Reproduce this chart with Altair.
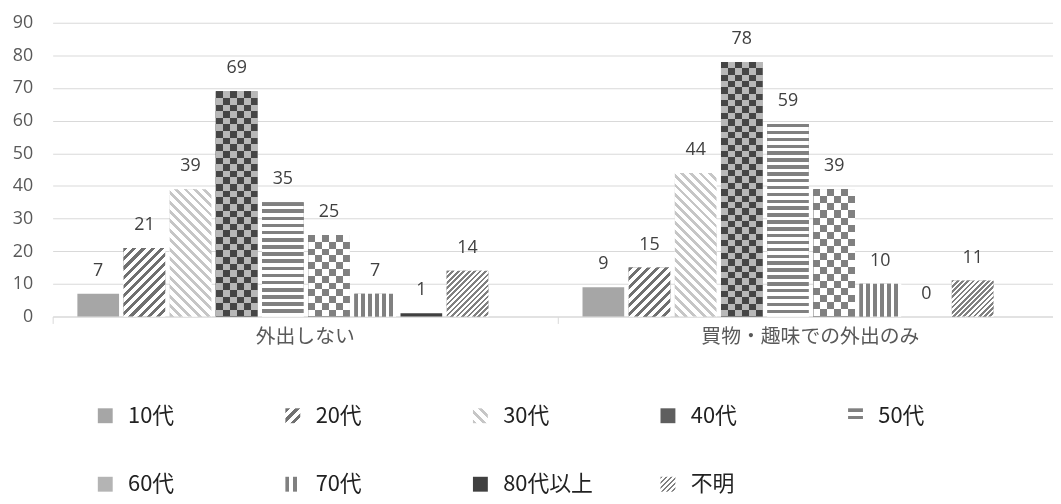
import math
import json
import altair as alt
import pandas as pd

# ---------------- data ----------------
groups = ["外出しない", "買物・趣味での外出のみ"]
series = ["10代", "20代", "30代", "40代", "50代", "60代", "70代", "80代以上", "不明"]
values_no_outing = [7, 21, 39, 69, 35, 25, 7, 1, 14]
values_shopping_hobby = [9, 15, 44, 78, 59, 39, 10, 0, 11]
y_ticks = [0, 10, 20, 30, 40, 50, 60, 70, 80, 90]

rows = []
for g, vals in zip(groups, [values_no_outing, values_shopping_hobby]):
    for s, v in zip(series, vals):
        rows.append({"group": g, "series": s, "value": v, "key": g + "|" + s})
df = pd.DataFrame(rows)

# ---------------- layout ----------------
W_PLOT = 1008
H_PLOT = 296
BAND = 509
Y_MAX = 90
offset_domain = series + ["_spacer"]   # empty slot reproduces the uneven group spacing
PI = 0.097
PO = 0.52
ALIGN = 0.515
N = len(offset_domain)
STEP = BAND / (N - PI + 2 * PO)
BAR_W = STEP * (1 - PI)

JP = "Noto Sans CJK JP"
NUM = "Open Sans"

# ---------------- pattern styles ----------------
WHITE = "#ffffff"
STYLE = {
    "10代": ("solid", "#a6a6a6"),
    "20代": ("stripe", "/", 6.6, 0.45, "#707070", WHITE),
    "30代": ("stripe", "\\", 6.6, 0.42, "#c6c6c6", WHITE),
    "40代": ("checker", 6.5, "#606060", "#b8b8b8"),
    "50代": ("stripe", "h", 7.0, 0.5, "#808080", WHITE),
    "60代": ("checker", 7.0, "#808080", WHITE),
    "70代": ("stripe", "v", 6.8, 0.5, "#808080", WHITE),
    "80代以上": ("solid", "#404040"),
    "不明": ("stripe", "/", 3.8, 0.5, "#808080", WHITE),
}
LEGEND_SOLID = {"40代": "#5e5e5e", "60代": "#b4b4b4"}


def stripes(kind, w, h, period, duty, on, off):
    if kind == "h":
        x1, y1, x2, y2 = 0, 0, 0, 1
        L = h
    elif kind == "v":
        x1, y1, x2, y2 = 0, 0, 1, 0
        L = w
    elif kind == "/":
        t = (w + h) / (w * w + h * h)
        x1, y1, x2, y2 = 0, 0, w * t, h * t
        L = (w + h) / math.sqrt(2)
    else:
        t = (w + h) / (w * w + h * h)
        x1, y1, x2, y2 = 0, 1, w * t, 1 - h * t
        L = (w + h) / math.sqrt(2)
    n = max(1, round(L / period))
    stops = []
    for k in range(n):
        a = round(k / n, 5)
        b = round((k + duty) / n, 5)
        c = round((k + 1) / n, 5)
        stops += [{"offset": a, "color": on}, {"offset": b, "color": on},
                  {"offset": b, "color": off}, {"offset": c, "color": off}]
    return {"gradient": "linear", "x1": round(x1, 5), "y1": round(y1, 5),
            "x2": round(x2, 5), "y2": round(y2, 5), "stops": stops}


legend_range = []
for s in series:
    st = STYLE[s]
    if st[0] == "solid":
        legend_range.append(st[1])
    elif st[0] == "stripe":
        g = stripes(st[1], 15, 15, st[2], st[3], st[4], st[5])
        legend_range.append(alt.ExprRef(expr=json.dumps(g)))
    else:
        legend_range.append(LEGEND_SOLID[s])

# ---------------- encodings ----------------
X = alt.X(
    "group:N", sort=groups,
    scale=alt.Scale(domain=groups, range=[0, 2 * BAND], paddingInner=0, paddingOuter=0),
    axis=alt.Axis(title=None, bandPosition=0, labelAngle=0,
                  domainColor="#d9d9d9", tickColor="#d9d9d9", tickSize=7,
                  labelFont=JP, labelFontSize=20, labelColor="#595959",
                  labelPadding=3, labelLimit=400, grid=False),
)
XO = alt.XOffset(
    "series:N", sort=offset_domain,
    scale=alt.Scale(domain=offset_domain, paddingInner=PI, paddingOuter=PO, align=ALIGN),
)
Y = alt.Y(
    "value:Q",
    scale=alt.Scale(domain=[0, Y_MAX], nice=False),
    axis=alt.Axis(title=None, values=y_ticks, domain=False, ticks=False, tickSize=0,
                  labelPadding=20, labelFont=NUM, labelFontSize=18,
                  labelColor="#595959", gridColor="#d9d9d9", gridWidth=1,
                  labelFlush=False),
)

base = alt.Chart(df).mark_bar(strokeWidth=0).encode(
    x=X, xOffset=XO, y=Y,
    color=alt.Color(
        "series:N", sort=series,
        scale=alt.Scale(domain=series, range=legend_range),
        legend=alt.Legend(
            title=None, orient="none", legendX=42, legendY=385,
            direction="horizontal", columns=5, gridAlign="all",
            columnPadding=64, rowPadding=47, symbolType="square",
            symbolSize=225, symbolStrokeWidth=0, labelFont=JP,
            labelFontSize=22, labelColor="#222222", labelOffset=12,
            padding=0, labelLimit=300,
        ),
    ),
)

layers = [base]
for rec in rows:
    st = STYLE[rec["series"]]
    v = rec["value"]
    if v <= 0 or st[0] == "solid":
        continue
    h = v * H_PLOT / Y_MAX
    src = alt.Chart(df).transform_filter(alt.datum.key == rec["key"])
    if st[0] == "stripe":
        g = stripes(st[1], BAR_W, h, st[2], st[3], st[4], st[5])
        layers.append(src.mark_bar(fill=g, strokeWidth=0).encode(x=X, xOffset=XO, y=Y))
    else:
        cell, c1, c2 = st[1], st[2], st[3]
        gv = stripes("v", BAR_W, h, 2 * cell, 0.5, "#000000", WHITE)
        gh = stripes("h", BAR_W, h, 2 * cell, 0.5, "#000000", WHITE)
        layers.append(src.mark_bar(fill=gv, strokeWidth=0).encode(x=X, xOffset=XO, y=Y))
        layers.append(src.mark_bar(fill=gh, strokeWidth=0, blend="difference").encode(x=X, xOffset=XO, y=Y))
        layers.append(src.mark_bar(fill=c1, strokeWidth=0, blend="screen").encode(x=X, xOffset=XO, y=Y))
        if c2 != WHITE:
            layers.append(src.mark_bar(fill=c2, strokeWidth=0, blend="multiply").encode(x=X, xOffset=XO, y=Y))

text = alt.Chart(df).mark_text(
    font=NUM, fontSize=18, color="#404040", baseline="alphabetic", dy=-18
).encode(x=X, xOffset=XO, y=Y, text=alt.Text("value:Q"))
layers.append(text)

chart = alt.layer(*layers).properties(
    width=W_PLOT, height=H_PLOT,
    autosize=alt.AutoSizeParams(type="none"),
    padding={"left": 45, "top": 13, "right": 0, "bottom": 179},
    background="#ffffff",
).configure_view(stroke=None)

chart.save("out.html", embed_options={"renderer": "svg", "actions": False})
